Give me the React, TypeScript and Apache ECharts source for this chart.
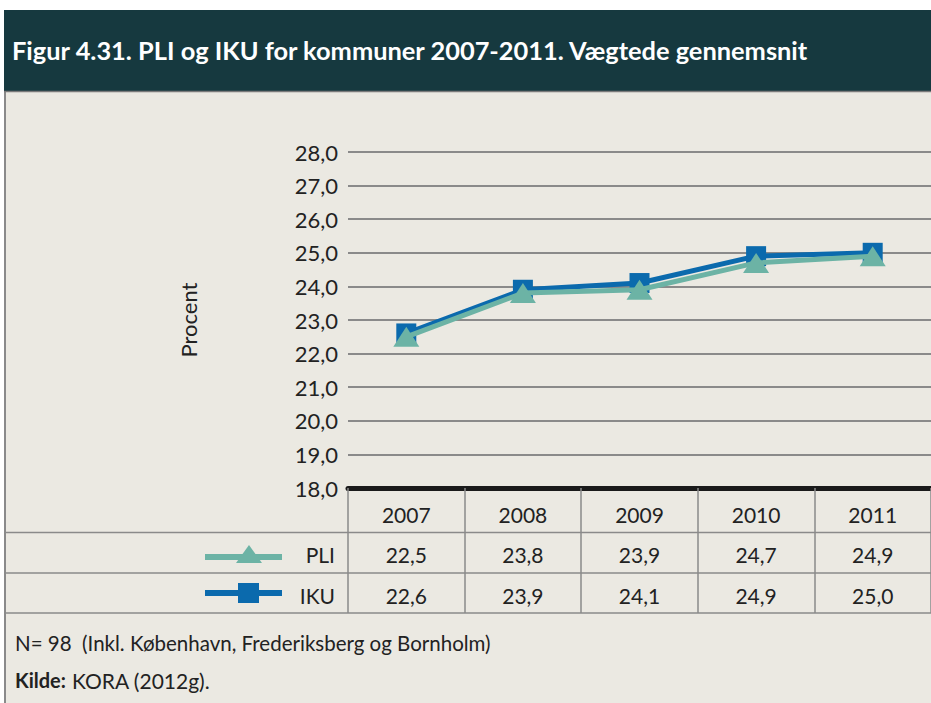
import React, { useEffect, useRef } from "react";
import * as echarts from "echarts";

const years = ["2007", "2008", "2009", "2010", "2011"];
const pliValues = [22.5, 23.8, 23.9, 24.7, 24.9];
const ikuValues = [22.6, 23.9, 24.1, 24.9, 25.0];
const seriesNames = ["PLI", "IKU"];
const yMin = 18;
const yMax = 28;
const yInterval = 1;
const titleText = "Figur 4.31. PLI og IKU for kommuner 2007-2011. Vægtede gennemsnit";
const noteText = "N= 98  (Inkl. København, Frederiksberg og Bornholm)";
const sourceLabel = "Kilde:";
const sourceText = "KORA (2012g).";
const yAxisName = "Procent";

const PLI_COLOR = "#6cb3a5";
const IKU_COLOR = "#0b6aad";
const BG = "#ebe9e2";
const HEADER = "#16393f";
const GRID_GRAY = "#8a8a8a";
const FONT = "Lato, 'Open Sans', sans-serif";

const fmt = (v: number) => v.toFixed(1).replace(".", ",");

export default function App() {
  const ref = useRef<HTMLDivElement>(null);
  useEffect(() => {
    if (!ref.current) return;
    const chart = echarts.init(ref.current, null, { renderer: "svg" });
    const rowLines = [532.5, 573, 613];
    const option: any = {
      animation: false,
      backgroundColor: BG,
      textStyle: { fontFamily: FONT },
      grid: { left: 348, top: 152, width: 600, height: 336 },
      xAxis: [
        {
          type: "category",
          data: years,
          boundaryGap: true,
          position: "bottom",
          axisLine: { show: true, lineStyle: { color: "#1a1a1a", width: 5 } },
          axisTick: {
            show: true,
            alignWithLabel: false,
            length: 125,
            lineStyle: { color: GRID_GRAY, width: 1.5 },
          },
          axisLabel: { color: "#222", fontSize: 21, margin: 16, fontFamily: FONT },
          splitLine: { show: false },
        },
        {
          type: "category",
          data: years,
          position: "bottom",
          offset: 40,
          axisLine: { show: false },
          axisTick: { show: false },
          axisLabel: {
            color: "#222",
            fontSize: 21,
            margin: 16,
            fontFamily: FONT,
            formatter: (_v: string, i: number) => fmt(pliValues[i]),
          },
        },
        {
          type: "category",
          data: years,
          position: "bottom",
          offset: 81,
          axisLine: { show: false },
          axisTick: { show: false },
          axisLabel: {
            color: "#222",
            fontSize: 21,
            margin: 16,
            fontFamily: FONT,
            formatter: (_v: string, i: number) => fmt(ikuValues[i]),
          },
        },
      ],
      yAxis: {
        type: "value",
        min: yMin,
        max: yMax,
        interval: yInterval,
        name: yAxisName,
        nameLocation: "middle",
        nameGap: 149,
        nameRotate: 90,
        nameTextStyle: { color: "#222", fontSize: 22, fontFamily: FONT },
        axisLine: { show: false },
        axisTick: { show: false },
        axisLabel: {
          color: "#222",
          fontSize: 22,
          margin: 10,
          fontFamily: FONT,
          formatter: (v: number) => fmt(v),
        },
        splitLine: { show: true, lineStyle: { color: GRID_GRAY, width: 2 } },
      },
      series: [
        {
          name: seriesNames[1],
          type: "line",
          data: ikuValues,
          xAxisIndex: 0,
          symbol: "rect",
          symbolSize: 20,
          lineStyle: { color: IKU_COLOR, width: 5 },
          itemStyle: { color: IKU_COLOR },
          z: 2,
        },
        {
          name: seriesNames[0],
          type: "line",
          data: pliValues,
          xAxisIndex: 0,
          symbol: "triangle",
          symbolSize: [26, 20],
          lineStyle: { color: PLI_COLOR, width: 5 },
          itemStyle: { color: PLI_COLOR },
          z: 3,
        },
      ],
      graphic: [
        { type: "rect", shape: { x: 0, y: 0, width: 931, height: 10 }, style: { fill: "#ffffff" }, silent: true },
        { type: "rect", shape: { x: 4, y: 10, width: 927, height: 81 }, style: { fill: HEADER }, silent: true },
        { type: "rect", shape: { x: 0, y: 10, width: 4, height: 693 }, style: { fill: "#ffffff" }, silent: true },
        { type: "line", shape: { x1: 5, y1: 91, x2: 5, y2: 703 }, style: { stroke: "#8a8a8a", lineWidth: 2 }, silent: true },
        { type: "line", shape: { x1: 4, y1: 91.5, x2: 931, y2: 91.5 }, style: { stroke: "#7a7a7a", lineWidth: 1.5 }, silent: true },
        {
          type: "text",
          x: 12,
          y: 50,
          style: {
            text: titleText,
            fill: "#ffffff",
            font: `bold 25.4px ${FONT}`,
            textVerticalAlign: "middle",
          },
          silent: true,
        },
        ...rowLines.map((y) => ({
          type: "line",
          shape: { x1: 5, y1: y, x2: 931, y2: y },
          style: { stroke: GRID_GRAY, lineWidth: 1.5 },
          silent: true,
        })),
        // legend rows in the table
        { type: "line", shape: { x1: 205, y1: 557, x2: 282, y2: 557 }, style: { stroke: PLI_COLOR, lineWidth: 6 }, silent: true },
        { type: "polygon", shape: { points: [[249, 545], [262, 563], [236, 563]] }, style: { fill: PLI_COLOR }, silent: true },
        {
          type: "text",
          x: 335,
          y: 554,
          style: { text: seriesNames[0], fill: "#222", font: `21px ${FONT}`, textAlign: "right", textVerticalAlign: "middle" },
          silent: true,
        },
        { type: "line", shape: { x1: 205, y1: 593, x2: 282, y2: 593 }, style: { stroke: IKU_COLOR, lineWidth: 6 }, silent: true },
        { type: "rect", shape: { x: 238, y: 583, width: 21, height: 20 }, style: { fill: IKU_COLOR }, silent: true },
        {
          type: "text",
          x: 335,
          y: 595,
          style: { text: seriesNames[1], fill: "#222", font: `21px ${FONT}`, textAlign: "right", textVerticalAlign: "middle" },
          silent: true,
        },
        {
          type: "text",
          x: 15,
          y: 643,
          style: { text: noteText, fill: "#222", font: `20.5px ${FONT}`, textVerticalAlign: "middle" },
          silent: true,
        },
        {
          type: "text",
          x: 15,
          y: 680,
          style: { text: sourceLabel, fill: "#222", font: `bold 20px ${FONT}`, textVerticalAlign: "middle" },
          silent: true,
        },
        {
          type: "text",
          x: 72,
          y: 680,
          style: { text: sourceText, fill: "#222", font: `21px ${FONT}`, textVerticalAlign: "middle" },
          silent: true,
        },
      ],
    };
    chart.setOption(option);
    return () => chart.dispose();
  }, []);
  return (
    <div
      ref={ref}
      style={{ position: "fixed", left: 0, top: 0, width: 931, height: 703 }}
    />
  );
}
